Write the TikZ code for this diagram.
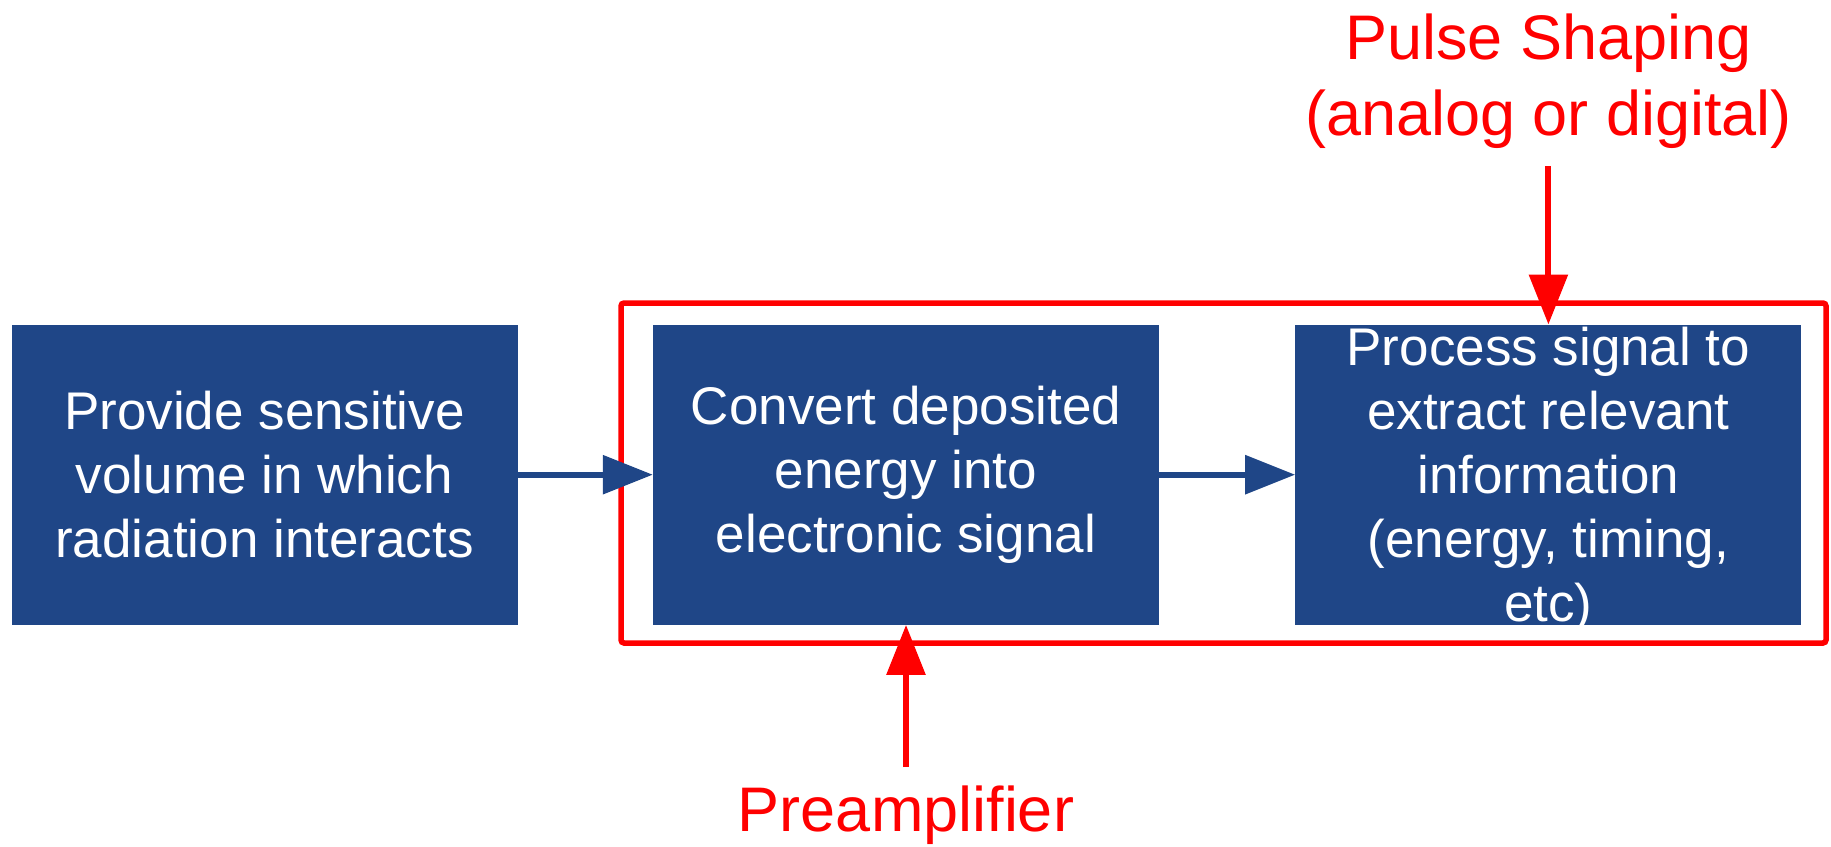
\documentclass[tikz,border=0pt]{standalone}
\usepackage{fontspec}
\setmainfont{Liberation Sans}
\usetikzlibrary{arrows.meta}
\definecolor{boxblue}{HTML}{1F4687}
\definecolor{pured}{HTML}{FF0000}
\tikzset{
  boxtext/.style={inner sep=0pt, text=white, align=center, font=\fontsize{53}{64}\selectfont},
  stagebox/.style={fill=boxblue, draw=none, minimum width=506pt, minimum height=300pt, boxtext},
  redlabel/.style={text=pured, align=center, inner sep=0pt, font=\fontsize{63}{76}\selectfont},
  bluearrow/.style={draw=boxblue, line width=6pt, -{Triangle[length=50pt,width=38pt]}},
  redarrow/.style={draw=pured, line width=6pt, -{Triangle[length=50pt,width=38pt]}},
  frame/.style={draw=pured, line width=5.5pt, rounded corners=3pt}
}
\begin{document}
\begin{tikzpicture}[x=1pt,y=-1pt]
\useasboundingbox (0,0) rectangle (1831,846);
\draw[frame] (621,303) rectangle (1826,643);
\node[stagebox] (b1) at (264.5,474.7) {Provide sensitive\\volume in which\\radiation interacts};
\node[stagebox] (b2) at (906,474.7) {Convert deposited\\energy into\\electronic signal};
\node[stagebox, label={[boxtext, yshift=-5pt]center:{Process signal to\\extract relevant\\information\\(energy, timing,\\etc)}}] (b3) at (1548.4,474.7) {};
\node[redlabel] (ps) at (1548.4,81.5) {Pulse Shaping\\(analog or digital)};
\node[redlabel, anchor=base] (pa) at (906,831) {Preamplifier};
\coordinate (psstart) at (1548.4,166);
\coordinate (pastart) at (906,767);
\draw[bluearrow] (b1.east) -- (b2.west);
\draw[bluearrow] (b2.east) -- (b3.west);
\draw[redarrow] (psstart) -- (b3.north);
\draw[redarrow] (pastart) -- (b2.south);
\end{tikzpicture}
\end{document}
